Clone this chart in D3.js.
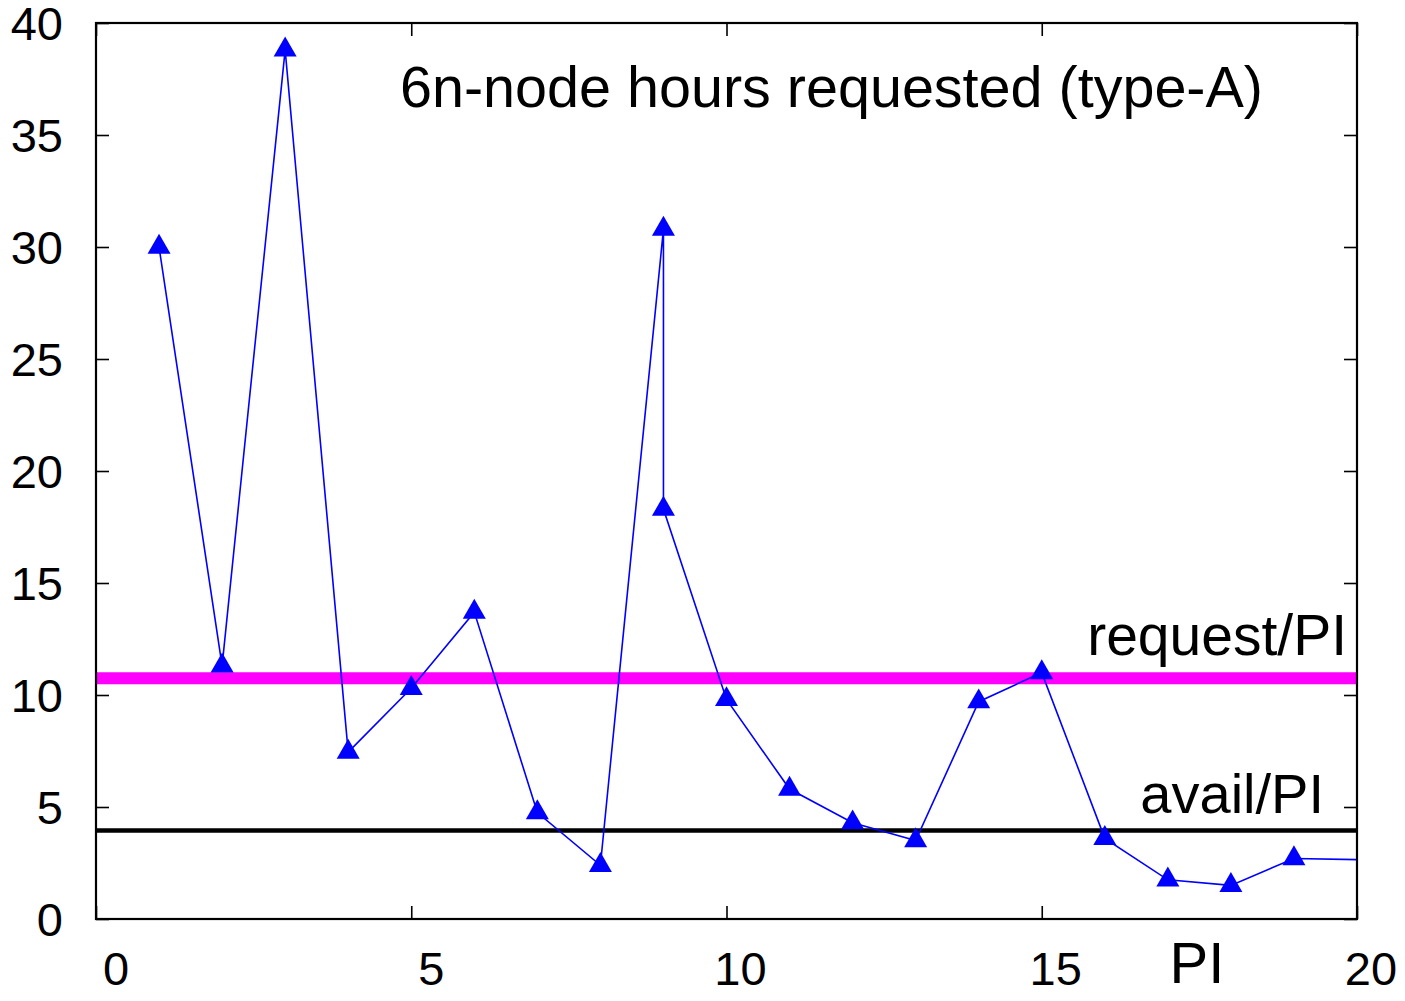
<!doctype html>
<html>
<head>
<meta charset="utf-8"/>
<title>6n-node hours requested (type-A)</title>
<script src="https://d3js.org/d3.v7.min.js"></script>
<style>
body{margin:0;background:#fff;}
text{font-family:"Liberation Sans",Arial,sans-serif;fill:#000;}
</style>
</head>
<body>
<script type="text/javascript">
// data
var piX = [1, 2, 3, 4, 5, 6, 7, 8, 9, 9, 10, 11, 12, 13, 14, 15, 16, 17, 18, 19, 20];
var hours = [30.0, 11.3, 38.8, 7.45, 10.3, 13.7, 4.75, 2.4, 30.8, 18.3, 9.8, 5.8, 4.3, 3.5, 9.7, 11.0, 3.6, 1.75, 1.5, 2.7, 2.65];
var requestPerPI = 10.75;
var availPerPI = 3.95;
var xTicks = [0, 5, 10, 15, 20];
var yTicks = [0, 5, 10, 15, 20, 25, 30, 35, 40];

var W = 1405, H = 1001;
var m = {left: 96, right: 1357, top: 23, bottom: 919};

var svg = d3.select("body").append("svg")
    .attr("width", W)
    .attr("height", H);

var x = d3.scaleLinear().domain([0, 20]).range([m.left, m.right]);
var y = d3.scaleLinear().domain([0, 40]).range([m.bottom, m.top]);

var pts = piX.map(function(d, i){ return {x: d, y: hours[i]}; });

// reference lines
svg.append("line")
  .attr("x1", x(0)).attr("x2", x(20))
  .attr("y1", y(requestPerPI)).attr("y2", y(requestPerPI))
  .attr("stroke", "#ff00ff").attr("stroke-width", 12);

svg.append("line")
  .attr("x1", x(0)).attr("x2", x(20))
  .attr("y1", y(availPerPI)).attr("y2", y(availPerPI))
  .attr("stroke", "#000").attr("stroke-width", 4.5);

// data line
svg.append("path")
  .datum(pts)
  .attr("fill", "none")
  .attr("stroke", "#0000ff")
  .attr("stroke-width", 1.6)
  .attr("d", d3.line().x(function(d){ return x(d.x); }).y(function(d){ return y(d.y); }));

// triangles (none drawn on the right border)
svg.selectAll(".pt")
  .data(pts.filter(function(d){ return d.x < 20; }))
  .enter().append("path")
  .attr("class", "pt")
  .attr("transform", function(d){ return "translate(" + x(d.x) + "," + y(d.y) + ")"; })
  .attr("d", d3.symbol().type(d3.symbolTriangle).size(229))
  .attr("fill", "#0000ff");

// axes: inward ticks on all four sides
var tl = 13;
svg.append("g").attr("transform", "translate(0," + m.bottom + ")")
  .call(d3.axisBottom(x).tickValues(xTicks).tickSizeInner(-tl).tickSizeOuter(0).tickFormat(""));
svg.append("g").attr("transform", "translate(0," + m.top + ")")
  .call(d3.axisTop(x).tickValues(xTicks).tickSizeInner(-tl).tickSizeOuter(0).tickFormat(""));
svg.append("g").attr("transform", "translate(" + m.left + ",0)")
  .call(d3.axisLeft(y).tickValues(yTicks).tickSizeInner(-tl).tickSizeOuter(0).tickFormat(""));
svg.append("g").attr("transform", "translate(" + m.right + ",0)")
  .call(d3.axisRight(y).tickValues(yTicks).tickSizeInner(-tl).tickSizeOuter(0).tickFormat(""));
svg.selectAll(".domain").remove();
svg.selectAll(".tick line").attr("stroke", "#000").attr("stroke-width", 1.6);

// border
svg.append("rect")
  .attr("x", m.left).attr("y", m.top)
  .attr("width", m.right - m.left).attr("height", m.bottom - m.top)
  .attr("fill", "none").attr("stroke", "#000").attr("stroke-width", 2.2);

// tick labels
svg.selectAll(".ylab").data(yTicks).enter().append("text")
  .attr("x", 63).attr("y", function(d){ return y(d); })
  .attr("dy", "0.36em")
  .attr("text-anchor", "end")
  .style("font-size", "47px")
  .text(function(d){ return d; });

svg.selectAll(".xlab").data(xTicks).enter().append("text")
  .attr("x", function(d){ return x(d) + (d < 10 ? 20 : 14); })
  .attr("y", 985)
  .attr("text-anchor", "middle")
  .style("font-size", "47px")
  .text(function(d){ return d; });

svg.append("text")
  .attr("x", 1197).attr("y", 983)
  .attr("text-anchor", "middle")
  .style("font-size", "58px")
  .text("PI");

// labels inside plot
svg.append("text")
  .attr("x", 400).attr("y", 107)
  .style("font-size", "57.5px")
  .text("6n-node hours requested (type-A)");

svg.append("text")
  .attr("x", 1347).attr("y", 655)
  .attr("text-anchor", "end")
  .style("font-size", "57px")
  .text("request/PI");

svg.append("text")
  .attr("x", 1324).attr("y", 813)
  .attr("text-anchor", "end")
  .style("font-size", "56px")
  .text("avail/PI");
</script>
</body>
</html>
